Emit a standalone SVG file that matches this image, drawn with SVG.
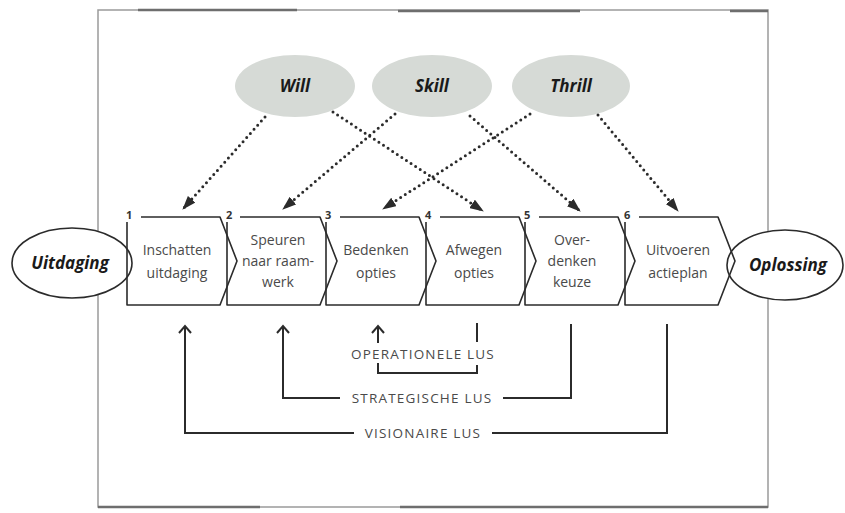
<svg xmlns="http://www.w3.org/2000/svg" width="845" height="513" viewBox="0 0 845 513">
  <style>
    .frame{fill:none;stroke:#9a9a9a;stroke-width:1.5}
    .frameDark{fill:none;stroke:#6e6e6e;stroke-width:2.5}
    .top{fill:#d6dad6;stroke:none}
    .topTxt{font-family:"Open Sans","Liberation Sans",sans-serif;font-weight:bold;font-style:italic;font-size:17px;fill:#1a1a1a;text-anchor:middle}
    .endEl{fill:#fff;stroke:#2b2b2b;stroke-width:1.6}
    .endTxt{font-family:"Open Sans","Liberation Sans",sans-serif;font-weight:bold;font-style:italic;font-size:17px;fill:#1a1a1a;text-anchor:middle}
    .box{fill:none;stroke:#2b2b2b;stroke-width:1.6;stroke-linejoin:round}
    .boxTxt{font-family:"Open Sans","Liberation Sans",sans-serif;font-size:14px;fill:#4a4a4a;text-anchor:middle}
    .num{font-family:"Open Sans","Liberation Sans",sans-serif;font-weight:bold;font-size:11px;fill:#333}
    .dot{fill:none;stroke:#2b2b2b;stroke-width:3;stroke-linecap:round;stroke-dasharray:0 5.5}
    .loop{fill:none;stroke:#2b2b2b;stroke-width:2}
    .loopTxt{font-family:"Open Sans","Liberation Sans",sans-serif;font-size:13.5px;fill:#4a4a4a;text-anchor:middle;letter-spacing:1.2px}
  </style>
  <defs>
    <marker id="tri" markerUnits="userSpaceOnUse" markerWidth="14" markerHeight="10" refX="13" refY="5" orient="auto">
      <path d="M0,0 L14,5 L0,10 z" fill="#2b2b2b"/>
    </marker>
    <marker id="open" markerUnits="userSpaceOnUse" markerWidth="12" markerHeight="14" refX="9" refY="7" orient="auto">
      <path d="M2,1 L9,7 L2,13" fill="none" stroke="#2b2b2b" stroke-width="2"/>
    </marker>
  </defs>

  <rect x="0" y="0" width="845" height="513" fill="#ffffff"/>

  <g id="frame">
    <rect class="frame" x="98" y="10" width="670" height="497"/>
    <line class="frameDark" x1="98" y1="507" x2="260" y2="507"/>
    <line class="frameDark" x1="400" y1="507" x2="768" y2="507"/>
    <line class="frameDark" x1="138" y1="10" x2="297" y2="10"/>
    <line class="frameDark" x1="398" y1="11" x2="580" y2="11"/>
    <line class="frameDark" x1="730" y1="11" x2="768" y2="11"/>
  </g>

  <g id="will">
    <ellipse class="top" cx="295" cy="86" rx="60" ry="31"/>
    <text class="topTxt" x="295" y="92">Will</text>
  </g>
  <g id="skill">
    <ellipse class="top" cx="432" cy="86" rx="60" ry="31"/>
    <text class="topTxt" x="432" y="92">Skill</text>
  </g>
  <g id="thrill">
    <ellipse class="top" cx="571" cy="86" rx="59" ry="31"/>
    <text class="topTxt" x="571" y="92">Thrill</text>
  </g>

  <g id="uitdaging">
    <ellipse class="endEl" cx="72" cy="263" rx="60" ry="35"/>
    <text class="endTxt" x="70" y="269">Uitdaging</text>
  </g>
  <g id="oplossing">
    <ellipse class="endEl" cx="785" cy="265" rx="58" ry="35"/>
    <text class="endTxt" x="788" y="271">Oplossing</text>
  </g>

  <g id="step1">
    <path class="box" d="M141,217 H220 L237,261 L220,305 H127 V222"/>
    <text class="num" x="126" y="219">1</text>
    <text class="boxTxt" x="177" y="255">Inschatten</text>
    <text class="boxTxt" x="177" y="278">uitdaging</text>
  </g>
  <g id="step2">
    <path class="box" d="M240,217 H320 L337,261 L320,305 H227 V222"/>
    <text class="num" x="226" y="219">2</text>
    <text class="boxTxt" x="278" y="245">Speuren</text>
    <text class="boxTxt" x="278" y="266">naar raam-</text>
    <text class="boxTxt" x="278" y="287">werk</text>
  </g>
  <g id="step3">
    <path class="box" d="M340,217 H419 L436,261 L419,305 H326 V222"/>
    <text class="num" x="325" y="219">3</text>
    <text class="boxTxt" x="376" y="255">Bedenken</text>
    <text class="boxTxt" x="376" y="278">opties</text>
  </g>
  <g id="step4">
    <path class="box" d="M440,217 H519 L536,261 L519,305 H426 V222"/>
    <text class="num" x="425" y="219">4</text>
    <text class="boxTxt" x="474" y="255">Afwegen</text>
    <text class="boxTxt" x="474" y="278">opties</text>
  </g>
  <g id="step5">
    <path class="box" d="M539,217 H618 L635,261 L618,305 H525 V222"/>
    <text class="num" x="524" y="219">5</text>
    <text class="boxTxt" x="572" y="245">Over-</text>
    <text class="boxTxt" x="572" y="266">denken</text>
    <text class="boxTxt" x="572" y="287">keuze</text>
  </g>
  <g id="step6">
    <path class="box" d="M639,217 H718 L735,261 L718,305 H625 V222"/>
    <text class="num" x="624" y="219">6</text>
    <text class="boxTxt" x="678" y="255">Uitvoeren</text>
    <text class="boxTxt" x="678" y="278">actieplan</text>
  </g>

  <g id="connectors">
    <line class="dot" x1="265" y1="117" x2="183" y2="209" marker-end="url(#tri)"/>
    <line class="dot" x1="333" y1="112" x2="483" y2="211" marker-end="url(#tri)"/>
    <line class="dot" x1="395" y1="114" x2="283" y2="209" marker-end="url(#tri)"/>
    <line class="dot" x1="470" y1="116" x2="580" y2="211" marker-end="url(#tri)"/>
    <line class="dot" x1="530" y1="114" x2="383" y2="209" marker-end="url(#tri)"/>
    <line class="dot" x1="598" y1="115" x2="678" y2="211" marker-end="url(#tri)"/>

    <line class="loop" x1="378" y1="343" x2="378" y2="326" marker-end="url(#open)"/>
    <polyline class="loop" points="378,363 378,373 477,373 477,365"/>
    <line class="loop" x1="477" y1="323" x2="477" y2="342"/>
    <text class="loopTxt" x="423" y="359">OPERATIONELE LUS</text>

    <polyline class="loop" points="340,398 283,398 283,326" marker-end="url(#open)"/>
    <polyline class="loop" points="503,398 571,398 571,324"/>
    <text class="loopTxt" x="422" y="403">STRATEGISCHE LUS</text>

    <polyline class="loop" points="354,433 185,433 185,326" marker-end="url(#open)"/>
    <polyline class="loop" points="492,433 667,433 667,324"/>
    <text class="loopTxt" x="423" y="438">VISIONAIRE LUS</text>
  </g>
</svg>
